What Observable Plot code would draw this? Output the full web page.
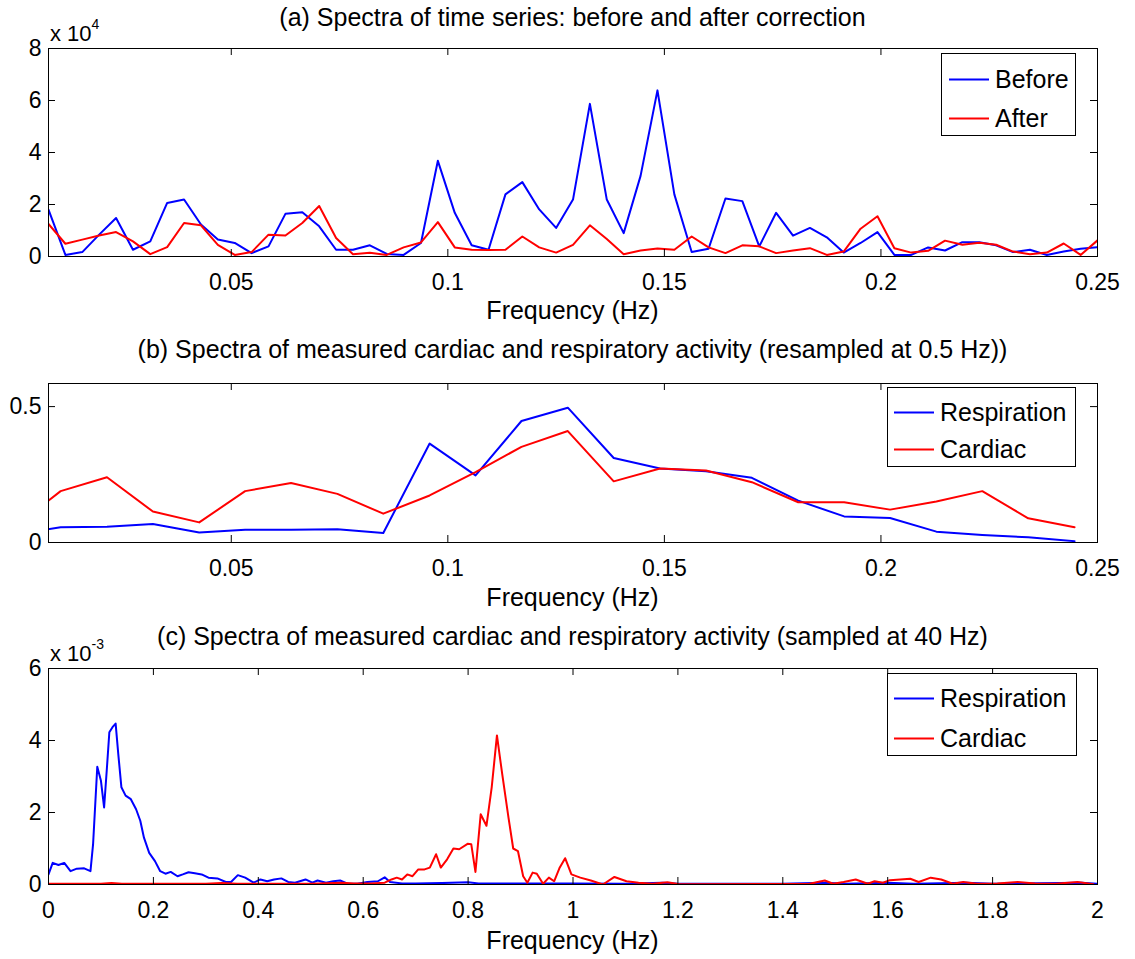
<!DOCTYPE html>
<html>
<head>
<meta charset="utf-8">
<script src="https://cdn.jsdelivr.net/npm/d3@7"></script>
<script src="https://cdn.jsdelivr.net/npm/@observablehq/plot@0.6"></script>
<style>
  body { margin: 0; background: #fff; }
  #root { position: relative; width: 1135px; height: 959px; overflow: hidden;
          font-family: "Liberation Sans", Arial, Helvetica, sans-serif; color: #000; }
  .abs { position: absolute; white-space: nowrap; line-height: 1; }
  .ctr { transform: translate(-50%, -50%); }
  .title { font-size: 25px; }
  .xlab { font-size: 25px; }
  .mult { font-size: 22px; transform: translateY(-50%); }
  .mult sup { font-size: 14px; position: relative; top: -4px; }
  .legend { position: absolute; border: 1px solid #000; background: #fff; box-sizing: border-box; }
  .legrow { position: absolute; left: 0; display: flex; align-items: center; transform: translateY(-50%); font-size: 25px; }
  .legrow svg { display: block; }
</style>
</head>
<body>
<div id="root"></div>
<script>
// ---------------- DATA ----------------
// (a) Spectra of time series (values in units of 1e4)
const freqA = [0.0078,0.0117,0.0156,0.0195,0.0234,0.0273,0.0313,0.0352,0.0391,0.0430,
  0.0469,0.0508,0.0547,0.0586,0.0625,0.0664,0.0703,0.0742,0.0781,0.0820,
  0.0859,0.0898,0.0938,0.0977,0.1016,0.1055,0.1094,0.1133,0.1172,0.1211,
  0.1250,0.1289,0.1328,0.1367,0.1406,0.1445,0.1484,0.1523,0.1563,0.1602,
  0.1641,0.1680,0.1719,0.1758,0.1797,0.1836,0.1875,0.1914,0.1953,0.1992,
  0.2031,0.2070,0.2109,0.2148,0.2188,0.2227,0.2266,0.2305,0.2344,0.2383,
  0.2422,0.2461,0.2500];
const beforeA = [1.80,0.06,0.17,0.84,1.48,0.26,0.58,2.06,2.19,1.23,
  0.65,0.52,0.13,0.39,1.64,1.70,1.16,0.26,0.26,0.43,
  0.10,0.06,0.52,3.68,1.68,0.43,0.26,2.39,2.86,1.81,
  1.10,2.19,5.87,2.19,0.90,3.10,6.39,2.39,0.17,0.30,
  2.23,2.13,0.39,1.68,0.80,1.10,0.74,0.15,0.52,0.94,
  0.06,0.06,0.35,0.23,0.55,0.55,0.43,0.17,0.26,0.06,
  0.19,0.30,0.36];
const afterA = [1.25,0.49,0.65,0.81,0.94,0.58,0.09,0.36,1.29,1.20,
  0.45,0.06,0.17,0.84,0.81,1.29,1.94,0.71,0.09,0.14,
  0.06,0.35,0.54,1.32,0.35,0.26,0.25,0.26,0.77,0.35,
  0.15,0.45,1.20,0.67,0.09,0.23,0.31,0.26,0.77,0.35,
  0.13,0.43,0.39,0.13,0.23,0.32,0.06,0.19,1.07,1.55,
  0.32,0.15,0.22,0.61,0.45,0.53,0.45,0.19,0.09,0.15,
  0.50,0.06,0.62];

// (b) Resampled at 0.5 Hz
const freqB = [0,0.0106,0.0213,0.0319,0.0426,0.0532,0.0638,0.0745,0.0851,0.0958,
  0.1064,0.1170,0.1277,0.1383,0.1490,0.1596,0.1702,0.1809,0.1915,0.2021,
  0.2128,0.2234,0.2340,0.2447];
const respB = [0.030,0.056,0.058,0.068,0.037,0.047,0.047,0.049,0.035,0.364,
  0.247,0.447,0.496,0.311,0.272,0.262,0.238,0.154,0.096,0.090,
  0.040,0.028,0.019,0.005];
const cardB = [0.058,0.189,0.240,0.114,0.074,0.189,0.219,0.179,0.106,0.173,
  0.259,0.352,0.410,0.225,0.272,0.265,0.222,0.148,0.148,0.121,
  0.151,0.189,0.089,0.056];

// (c) Sampled at 40 Hz (values in units of 1e-3)
const respCf = [0,0.008,0.019,0.030,0.042,0.054,0.068,0.080,0.085,0.093,
  0.100,0.106,0.111,0.116,0.122,0.128,0.133,0.139,0.147,0.157,
  0.167,0.175,0.182,0.192,0.203,0.213,0.223,0.233,0.246,0.256,
  0.267,0.279,0.292,0.305,0.322,0.338,0.348,0.361,0.375,0.391,
  0.404,0.417,0.430,0.444,0.457,0.470,0.490,0.503,0.513,0.529,
  0.543,0.556,0.569,0.589,0.608,0.628,0.641,0.651,0.674,0.700,
  0.750,0.800,0.820,0.900,1.000,1.100,1.170,1.200,1.400,1.480,
  1.520,1.600,1.650,1.750,1.800,1.970,2.000];
const respCv = [0.28,0.60,0.54,0.60,0.37,0.44,0.45,0.37,1.12,3.27,
  2.88,2.14,3.16,4.23,4.37,4.47,3.63,2.70,2.47,2.37,
  2.09,1.77,1.30,0.88,0.65,0.37,0.30,0.35,0.23,0.28,
  0.34,0.31,0.28,0.19,0.17,0.07,0.07,0.26,0.19,0.05,
  0.14,0.09,0.14,0.17,0.07,0.05,0.14,0.05,0.11,0.05,
  0.09,0.11,0.03,0.02,0.07,0.09,0.20,0.07,0.03,0.03,
  0.04,0.06,0.03,0.03,0.03,0.02,0.05,0.02,0.02,0.05,
  0.02,0.05,0.02,0.05,0.02,0.05,0.02];
const cardCf = [0,0.100,0.120,0.140,0.300,0.330,0.360,0.500,0.560,0.582,
  0.615,0.641,0.654,0.664,0.674,0.684,0.694,0.705,0.717,0.727,
  0.739,0.748,0.760,0.772,0.783,0.799,0.806,0.814,0.824,0.835,
  0.845,0.855,0.865,0.877,0.886,0.895,0.905,0.913,0.923,0.931,
  0.943,0.954,0.964,0.974,0.985,0.997,1.014,1.034,1.057,1.079,
  1.102,1.125,1.151,1.180,1.203,1.451,1.480,1.496,1.516,1.539,
  1.562,1.575,1.591,1.604,1.624,1.643,1.659,1.682,1.702,1.724,
  1.744,1.770,1.809,1.848,1.881,1.920,1.962,1.992];
const cardCv = [0.02,0.02,0.04,0.02,0.02,0.04,0.02,0.02,0.05,0.03,
  0.03,0.05,0.14,0.19,0.14,0.28,0.23,0.42,0.42,0.47,
  0.84,0.47,0.70,1.00,0.98,1.13,1.12,0.35,1.95,1.63,
  2.70,4.14,3.07,1.86,1.00,0.93,0.23,0.05,0.33,0.30,
  0.02,0.19,0.09,0.45,0.73,0.28,0.19,0.11,0.00,0.21,
  0.09,0.05,0.02,0.06,0.01,0.02,0.11,0.02,0.07,0.14,
  0.02,0.09,0.05,0.12,0.14,0.16,0.07,0.19,0.14,0.02,
  0.07,0.02,0.03,0.07,0.03,0.02,0.07,0.01];

// Tick values / labels
const ticksXab = [0.05, 0.1, 0.15, 0.2, 0.25];
const ticksXc = [0, 0.2, 0.4, 0.6, 0.8, 1, 1.2, 1.4, 1.6, 1.8, 2];
const ticksYa = [0, 2, 4, 6, 8];
const ticksYb = [0, 0.5];
const ticksYc = [0, 2, 4, 6];

const titles = [
  "(a) Spectra of time series: before and after correction",
  "(b) Spectra of measured cardiac and respiratory activity (resampled at 0.5 Hz))",
  "(c) Spectra of measured cardiac and respiratory activity (sampled at 40 Hz)"
];
const xLabel = "Frequency (Hz)";
const legendA = ["Before", "After"];
const legendBC = ["Respiration", "Cardiac"];
const colors = ["#0000ff", "#ff0000"];

// ---------------- LAYOUT ----------------
const W = 1135, ML = 48, MR = 38, MT = 10, MB = 60;
const FW = W - ML - MR;
const root = document.getElementById("root");
const FONT = '"Liberation Sans", Arial, Helvetica, sans-serif';

function rows(xs, ys) { return xs.map((x, i) => ({x, y: ys[i]})); }

function panel(o) {
  const fh = o.frameBottom - o.frameTop;
  const marks = [
    ...o.series.map(s => Plot.line(rows(s.x, s.y), {x: "x", y: "y", stroke: s.color, strokeWidth: 2, clip: true})),
    Plot.frame({stroke: "#000"}),
    Plot.tickX(o.xTicks, {x: d => d, insetTop: fh - 7, stroke: "#000"}),
    Plot.tickX(o.xTicks, {x: d => d, insetBottom: fh - 7, stroke: "#000"}),
    Plot.tickY(o.yTicks, {y: d => d, insetRight: FW - 7, stroke: "#000"}),
    Plot.tickY(o.yTicks, {y: d => d, insetLeft: FW - 7, stroke: "#000"})
  ];
  const svg = Plot.plot({
    width: W, height: MT + fh + MB,
    marginLeft: ML, marginRight: MR, marginTop: MT, marginBottom: MB,
    x: {domain: o.xDomain, ticks: o.xTicks, tickFormat: d => String(d), tickSize: 0, tickPadding: 17, label: null},
    y: {domain: o.yDomain, ticks: o.yTicks, tickFormat: d => String(d), tickSize: 0, tickPadding: 7, label: null},
    style: {fontSize: "23px", fontFamily: FONT, color: "#000", background: "transparent", overflow: "visible"},
    marks
  });
  const holder = document.createElement("div");
  holder.className = "abs";
  holder.style.left = "0px";
  holder.style.top = (o.frameTop - MT) + "px";
  holder.appendChild(svg);
  root.appendChild(holder);
}

function text(cls, str, x, y) {
  const d = document.createElement("div");
  d.className = "abs " + cls;
  d.style.left = x + "px";
  d.style.top = y + "px";
  d.textContent = str;
  root.appendChild(d);
  return d;
}

function mult(exp, x, y) {
  const d = document.createElement("div");
  d.className = "abs mult";
  d.style.left = x + "px";
  d.style.top = y + "px";
  d.innerHTML = "x 10<sup>" + exp + "</sup>";
  root.appendChild(d);
}

function legend(labels, box) {
  const lg = document.createElement("div");
  lg.className = "legend";
  lg.style.left = box.left + "px"; lg.style.top = box.top + "px";
  lg.style.width = box.w + "px"; lg.style.height = box.h + "px";
  labels.forEach((lab, i) => {
    const r = document.createElement("div");
    r.className = "legrow";
    r.style.top = box.rows[i] + "px";
    r.innerHTML = `<svg width="${box.textX}" height="6"><line x1="${box.lineX1}" x2="${box.lineX2}" y1="3" y2="3" stroke="${colors[i]}" stroke-width="2"/></svg><span>${lab}</span>`;
    lg.appendChild(r);
  });
  root.appendChild(lg);
}

const cx = ML + FW / 2;

// Panel (a)
panel({frameTop: 48, frameBottom: 256, xDomain: [0.0078, 0.25], yDomain: [0, 8],
  xTicks: ticksXab, yTicks: ticksYa,
  series: [{x: freqA, y: beforeA, color: colors[0]}, {x: freqA, y: afterA, color: colors[1]}]});
text("title ctr", titles[0], cx, 17);
mult("4", 50, 33);
text("xlab ctr", xLabel, cx, 310);
legend(legendA, {left: 941, top: 53, w: 135, h: 83, rows: [25, 64], lineX1: 7, lineX2: 47, textX: 53});

// Panel (b)
panel({frameTop: 383, frameBottom: 542, xDomain: [0.0078, 0.25], yDomain: [0, 0.585],
  xTicks: ticksXab, yTicks: ticksYb,
  series: [{x: freqB, y: respB, color: colors[0]}, {x: freqB, y: cardB, color: colors[1]}]});
text("title ctr", titles[1], cx, 349);
text("xlab ctr", xLabel, cx, 597);
legend(legendBC, {left: 887, top: 387, w: 189, h: 80, rows: [24, 61], lineX1: 6, lineX2: 46, textX: 52});

// Panel (c)
panel({frameTop: 668, frameBottom: 884, xDomain: [0, 2], yDomain: [0, 6],
  xTicks: ticksXc, yTicks: ticksYc,
  series: [{x: respCf, y: respCv, color: colors[0]}, {x: cardCf, y: cardCv, color: colors[1]}]});
text("title ctr", titles[2], cx, 636);
mult("-3", 50, 653);
text("xlab ctr", xLabel, cx, 940);
legend(legendBC, {left: 887, top: 673, w: 190, h: 83, rows: [24, 64], lineX1: 6, lineX2: 46, textX: 52});
</script>
</body>
</html>
